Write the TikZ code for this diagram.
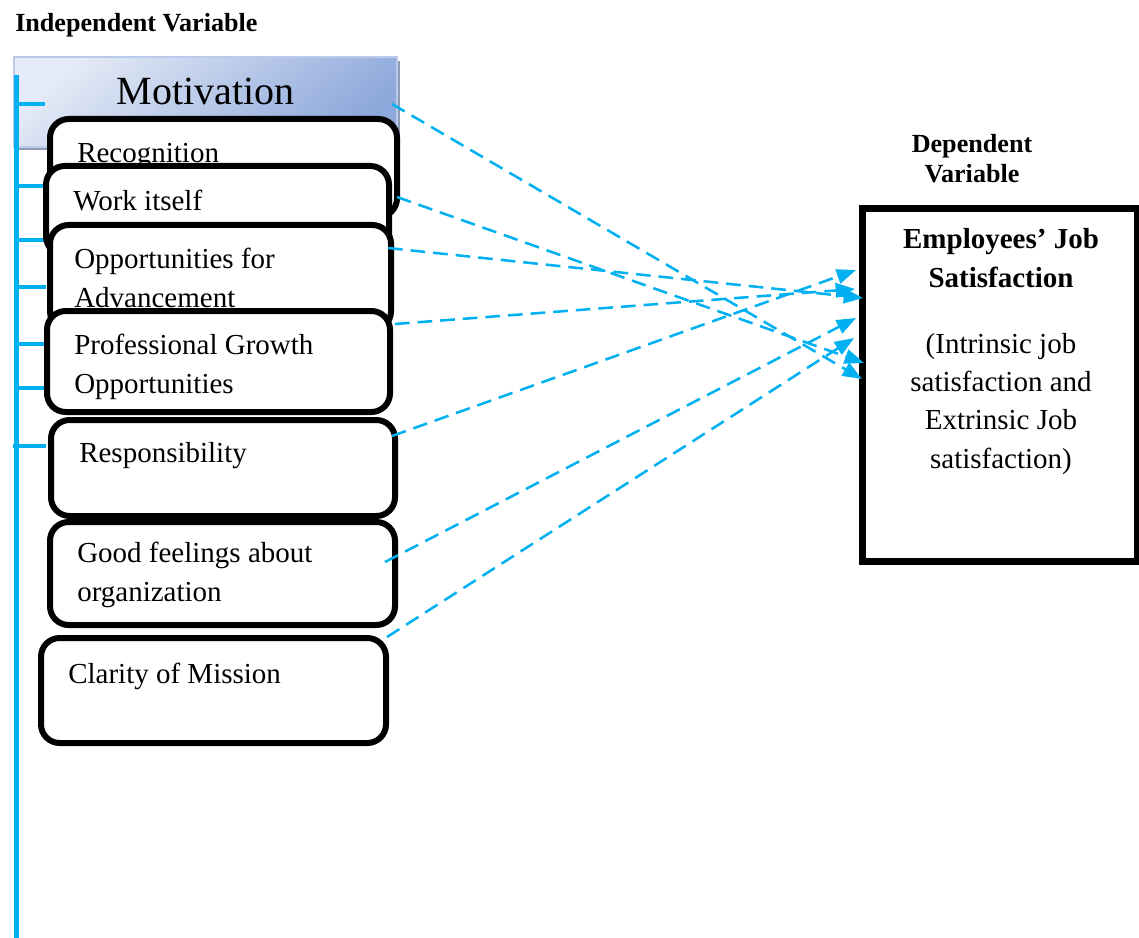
\documentclass[tikz,border=0pt]{standalone}
\usepackage{fontspec}
\setmainfont{Liberation Serif}
\usetikzlibrary{arrows.meta,fit}
\definecolor{cyanline}{HTML}{00B0F0}
\definecolor{hlight}{HTML}{E4EAF6}
\definecolor{hdark}{HTML}{8DA8DB}
\definecolor{hborder}{HTML}{B9CAEA}
\definecolor{hshadow}{HTML}{8E9CB6}
\begin{document}
\begin{tikzpicture}[x=0.75pt,y=-0.75pt,
  ibox/.style={draw=black, line width=4.5pt, rounded corners=14pt, fill=white, inner sep=0pt},
  lbl/.style={anchor=base west, inner sep=0pt, align=left, font=\fontsize{21.75pt}{29pt}\selectfont},
  hdr/.style={inner sep=0pt, font=\bfseries\fontsize{19.6pt}{22.5pt}\selectfont},
  tickline/.style={draw=cyanline, line width=2.8pt},
  link/.style={draw=cyanline, line width=1.9pt, dash pattern=on 11pt off 6pt, -{Triangle[length=14.5pt,width=11pt]}},
]
\useasboundingbox (0,0) rectangle (1139,938);

% header titles
\node[hdr, anchor=base west] (iv) at (15,32) {Independent Variable};

% Motivation header
\fill[hshadow] (17,61) rectangle (400,150);
\node[fit={(14,57) (397,147)}, inner sep=0pt, draw=hborder, line width=0.8pt,
      top color=hlight, bottom color=hdark, shading angle=40] (mot) {};
\node[anchor=base, inner sep=0pt, font=\fontsize{30pt}{36pt}\selectfont] (mott) at (205.5,105) {Motivation};

% blue bracket line
\coordinate (vtop) at (16.5,75);
\coordinate (vbot) at (16.5,940);
\draw[draw=cyanline, line width=3.2pt] (vtop) -- (vbot);
\foreach \y/\a/\b [count=\i] in {104/14/45, 186/16/46, 240/16/46, 287/16/46, 344/16/46, 388/16/46, 446/13/46}{
  \coordinate (ta\i) at (\a,\y);
  \coordinate (tb\i) at (\b,\y);
  \draw[tickline] (ta\i) -- (tb\i);
}

% boxes
\node[ibox, fit={(50,119) (397,217)}] (rec) {};
\node[lbl] (rect) at (77,163) {Recognition};
\node[ibox, fit={(46,166) (389,255)}] (wrk) {};
\node[lbl] (wrkt) at (73,210) {Work itself};
\node[ibox, fit={(50,225) (391,330)}] (opp) {};
\node[lbl] (oppt) at (74,307) {Opportunities for\\Advancement};
\node[ibox, fit={(47,311) (390,412)}] (pro) {};
\node[lbl] (prot) at (74,393) {Professional Growth\\Opportunities};
\node[ibox, fit={(51,420) (395,516)}] (res) {};
\node[lbl] (rest) at (79,462) {Responsibility};
\node[ibox, fit={(50,522) (395,625)}] (gfo) {};
\node[lbl] (gfot) at (77,601) {Good feelings about\\organization};
\node[ibox, fit={(41,638) (386,743)}] (clm) {};
\node[lbl] (clmt) at (68,683) {Clarity of Mission};

% dependent variable
\node[hdr, anchor=base, align=center] (dvt) at (972,183) {Dependent\\Variable};
\node[fit={(862.5,208.5) (1137,561.5)}, draw=black, line width=5pt, inner sep=0pt] (dv) {};
\node[anchor=base, inner sep=0pt, align=center, font=\bfseries\fontsize{21.75pt}{29pt}\selectfont] (dvn) at (1001,287) {Employees’ Job\\Satisfaction};
\node[anchor=base, inner sep=0pt, align=center, font=\fontsize{21.75pt}{28.75pt}\selectfont] (dvd) at (1001,468) {(Intrinsic job\\satisfaction and\\Extrinsic Job\\satisfaction)};

% connectors
\coordinate (s1) at (392,104); \coordinate (e1) at (862,379);
\coordinate (s2) at (397,197); \coordinate (e2) at (864,363);
\coordinate (s3) at (388,248); \coordinate (e3) at (863,298);
\coordinate (s4) at (395,324); \coordinate (e4) at (855,289);
\coordinate (s5) at (392,436); \coordinate (e5) at (856,270);
\coordinate (s6) at (385,562); \coordinate (e6) at (856,318);
\coordinate (s7) at (387,637); \coordinate (e7) at (854,338);
\foreach \i in {1,...,7}{
  \draw[link] (s\i) -- (e\i);
}
\end{tikzpicture}
\end{document}
